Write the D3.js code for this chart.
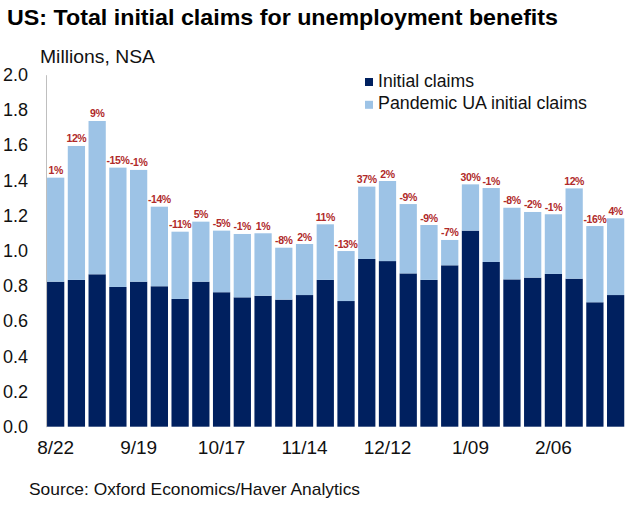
<!DOCTYPE html>
<html>
<head>
<meta charset="utf-8">
<script src="https://cdn.jsdelivr.net/npm/d3@7"></script>
<style>
  html, body { margin: 0; padding: 0; background: #fff; }
  text { font-family: "Liberation Sans", Arial, sans-serif; }
</style>
</head>
<body>
<svg id="chart" width="630" height="505"></svg>
<script>
const weeks = ["8/22","8/29","9/05","9/12","9/19","9/26","10/03","10/10","10/17","10/24","10/31","11/07","11/14","11/21","11/28","12/05","12/12","12/19","12/26","1/02","1/09","1/16","1/23","1/30","2/06","2/13","2/20","2/27"];
const initialClaims = [0.824,0.834,0.866,0.794,0.824,0.798,0.726,0.824,0.764,0.735,0.744,0.722,0.748,0.834,0.714,0.953,0.941,0.871,0.834,0.917,1.114,0.936,0.837,0.847,0.868,0.841,0.707,0.748];
const totalClaims = [1.415,1.595,1.737,1.472,1.459,1.250,1.108,1.165,1.114,1.095,1.099,1.017,1.038,1.150,0.998,1.364,1.396,1.265,1.146,1.061,1.377,1.356,1.244,1.220,1.207,1.354,1.140,1.184];
const pandemicUA = totalClaims.map((t, i) => +(t - initialClaims[i]).toFixed(3));
const pctChange = ["1%","12%","9%","-15%","-1%","-14%","-11%","5%","-5%","-1%","1%","-8%","2%","11%","-13%","37%","2%","-9%","-9%","-7%","30%","-1%","-8%","-2%","-1%","12%","-16%","4%"];
const xTickLabels = ["8/22","9/19","10/17","11/14","12/12","1/09","2/06"];
const yTicks = [0,0.2,0.4,0.6,0.8,1.0,1.2,1.4,1.6,1.8,2.0];
const seriesNames = ["Initial claims","Pandemic UA initial claims"];

const colors = { initial: "#00205f", pua: "#9dc3e6", label: "#b02a2a", axis: "#bfbfbf", text: "#111" };

const svg = d3.select("#chart");

const x = d3.scaleBand().domain(weeks).range([45.3, 626]).paddingInner(0.168).paddingOuter(0.084);
const y = d3.scaleLinear().domain([0, 2.0]).range([426.7, 74.7]);

const rows = weeks.map((w, i) => ({ week: w, initial: initialClaims[i], pua: pandemicUA[i], pct: pctChange[i] }));
const stack = d3.stack().keys(["initial", "pua"])(rows);

// Title
svg.append("text")
  .attr("x", 7).attr("y", 25)
  .attr("font-size", 22).attr("font-weight", "bold").attr("fill", "#000")
  .attr("textLength", 551).attr("lengthAdjust", "spacingAndGlyphs")
  .text("US: Total initial claims for unemployment benefits");

// Units
svg.append("text")
  .attr("x", 40).attr("y", 62.5)
  .attr("font-size", 18).attr("fill", colors.text)
  .attr("textLength", 115).attr("lengthAdjust", "spacingAndGlyphs")
  .text("Millions, NSA");

// Y axis
const yAxis = d3.axisLeft(y).tickValues(yTicks).tickFormat(d3.format(".1f")).tickSize(0).tickPadding(18);
const gy = svg.append("g").attr("transform", "translate(46,0)").call(yAxis);
gy.select(".domain").attr("stroke", colors.axis).attr("stroke-width", 1);
gy.selectAll("text").attr("font-size", 18).attr("fill", colors.text).attr("font-family", "Liberation Sans, Arial, sans-serif");

// Bars
svg.append("g").selectAll("g")
  .data(stack).join("g")
  .attr("fill", d => d.key === "initial" ? colors.initial : colors.pua)
  .selectAll("rect")
  .data(d => d).join("rect")
  .attr("x", d => x(d.data.week))
  .attr("width", x.bandwidth())
  .attr("y", d => y(d[1]))
  .attr("height", d => y(d[0]) - y(d[1]));

// Percent labels
svg.append("g").selectAll("text")
  .data(rows).join("text")
  .attr("x", d => x(d.week) + x.bandwidth() / 2)
  .attr("y", d => y(d.initial + d.pua) - 3.5)
  .attr("text-anchor", "middle")
  .attr("font-size", 10.5).attr("font-weight", "bold")
  .attr("letter-spacing", -0.4)
  .attr("fill", colors.label)
  .text(d => d.pct);

// X axis labels
const xAxis = d3.axisBottom(x).tickValues(xTickLabels).tickSize(0).tickPadding(14);
const gx = svg.append("g").attr("transform", `translate(0,${y(0)})`).call(xAxis);
gx.select(".domain").remove();
gx.selectAll("text").attr("font-size", 19).attr("fill", colors.text).attr("font-family", "Liberation Sans, Arial, sans-serif");

// Legend
const legend = svg.append("g");
const legendItems = [
  { name: seriesNames[0], color: colors.initial, y: 86.5, len: 96 },
  { name: seriesNames[1], color: colors.pua, y: 109.3, len: 209 }
];
legendItems.forEach(it => {
  legend.append("rect").attr("x", 365).attr("y", it.y - 8.5).attr("width", 8).attr("height", 8).attr("fill", it.color);
  legend.append("text").attr("x", 378).attr("y", it.y).attr("font-size", 17.5).attr("fill", colors.text)
    .attr("textLength", it.len).attr("lengthAdjust", "spacingAndGlyphs").text(it.name);
});

// Source
svg.append("text")
  .attr("x", 29).attr("y", 495)
  .attr("font-size", 17).attr("fill", colors.text)
  .attr("textLength", 331).attr("lengthAdjust", "spacingAndGlyphs")
  .text("Source: Oxford Economics/Haver Analytics");
</script>
</body>
</html>
